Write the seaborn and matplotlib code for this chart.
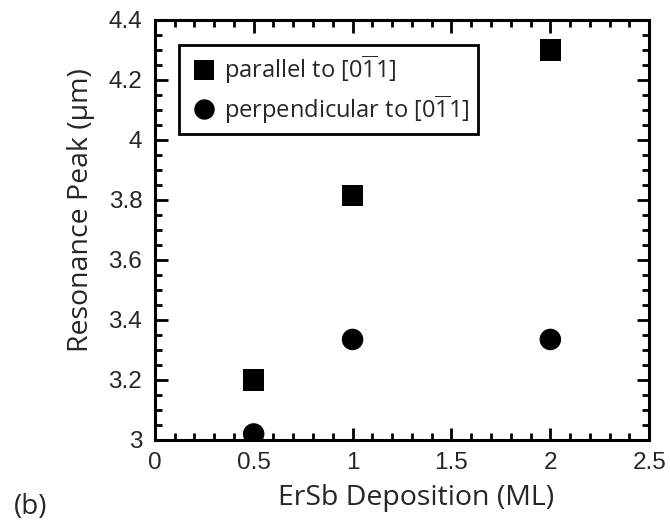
import matplotlib
matplotlib.use("Agg")
import matplotlib.pyplot as plt
import seaborn as sns
import pandas as pd
from matplotlib.ticker import MultipleLocator

deposition = [0.5, 1.0, 2.0]
parallel = [3.20, 3.815, 4.30]
perpendicular = [3.02, 3.335, 3.335]
lab_par = r'parallel to [0$\overline{\mathdefault{1}}$1]'
lab_perp = r'perpendicular to [0$\overline{\mathdefault{1}}$1]'
xtick_vals = [0, 0.5, 1, 1.5, 2, 2.5]
xtick_labels = ['0', '0.5', '1', '1.5', '2', '2.5']
ytick_vals = [3, 3.2, 3.4, 3.6, 3.8, 4, 4.2, 4.4]
ytick_labels = ['3', '3.2', '3.4', '3.6', '3.8', '4', '4.2', '4.4']

df = pd.DataFrame({
    "x": deposition * 2,
    "y": parallel + perpendicular,
    "series": [lab_par] * 3 + [lab_perp] * 3,
})

sns.set_theme(style="ticks")
plt.rcParams['font.family'] = ['Open Sans', 'DejaVu Sans']
plt.rcParams['mathtext.fontset'] = 'custom'
plt.rcParams['mathtext.rm'] = 'Open Sans'

fig = plt.figure(figsize=(6.7, 5.25), dpi=100)
ax = fig.add_axes([0.231, 0.162, 0.738, 0.800])

sns.scatterplot(data=df, x="x", y="y", style="series",
                markers={lab_par: "s", lab_perp: "o"},
                hue="series", palette={lab_par: "black", lab_perp: "black"},
                s=240, linewidth=0, ax=ax)

ax.set_xlim(0, 2.5)
ax.set_ylim(3, 4.4)
ax.xaxis.set_minor_locator(MultipleLocator(0.1))
ax.yaxis.set_minor_locator(MultipleLocator(0.05))
ax.set_xticks(xtick_vals)
ax.set_xticklabels(xtick_labels)
ax.set_yticks(ytick_vals)
ax.set_yticklabels(ytick_labels)

ax.tick_params(which='both', direction='in', top=True, right=True, width=2, color='black')
ax.tick_params(which='major', length=9, labelsize=17.5)
ax.tick_params(axis='x', which='major', pad=9)
ax.tick_params(axis='y', which='major', pad=9)
ax.tick_params(which='minor', length=5)
for lbl in ax.get_xticklabels() + ax.get_yticklabels():
    lbl.set_family(['Liberation Sans', 'DejaVu Sans'])
    lbl.set_fontsize(17.5)
for sp in ax.spines.values():
    sp.set_linewidth(2.2)
    sp.set_color('black')

ax.set_xlabel('ErSb Deposition (ML)', fontsize=20.5, labelpad=7)
ax.set_ylabel('Resonance Peak (µm)', fontsize=20.5, labelpad=10)
ax.xaxis.label.set_x(0.528)
ax.yaxis.label.set_y(0.548)

leg = ax.legend(loc='upper left', bbox_to_anchor=(0.0486, 0.940), borderaxespad=0,
                fontsize=17,
                frameon=True, fancybox=False, edgecolor='black', framealpha=1,
                handletextpad=0.15, borderpad=0.35, labelspacing=0.28,
                markerscale=0.95, handlelength=1.4)
leg.get_frame().set_linewidth(2)

fig.text(0.02, 0.021, '(b)', fontsize=20, va='baseline')

fig.savefig('out.png', dpi=100)
